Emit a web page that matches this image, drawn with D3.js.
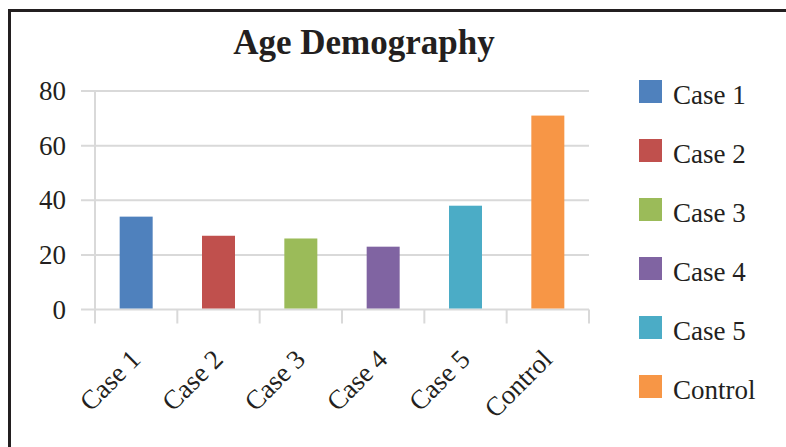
<!DOCTYPE html>
<html>
<head>
<meta charset="utf-8">
<script src="https://cdn.jsdelivr.net/npm/d3@7"></script>
<style>
  body { margin: 0; background: #fff; }
  text { font-family: "Liberation Serif", "Times New Roman", serif; fill: #231f20; }
</style>
</head>
<body>
<script>
// chart data
var categories = ["Case 1", "Case 2", "Case 3", "Case 4", "Case 5", "Control"];
var ages = [34, 27, 26, 23, 38, 71];
var colors = ["#4f81bd", "#c0504d", "#9bbb59", "#8064a2", "#4bacc6", "#f79646"];
var yTicks = [0, 20, 40, 60, 80];

var w = 786, h = 447;
var plotLeft = 95, plotRight = 589, plotTop = 91, plotBottom = 309.5;

var svg = d3.select("body").append("svg")
    .attr("width", w)
    .attr("height", h);

// frame
svg.append("rect")
    .attr("x", 9.5).attr("y", 10.5)
    .attr("width", 800).attr("height", 500)
    .attr("fill", "none")
    .attr("stroke", "#231f20")
    .attr("stroke-width", 3);

svg.append("text")
    .attr("x", 364).attr("y", 54)
    .attr("text-anchor", "middle")
    .attr("font-size", "35px")
    .attr("font-weight", "bold")
    .text("Age Demography");

var x = d3.scaleBand().domain(categories).range([plotLeft, plotRight]);
var y = d3.scaleLinear().domain([0, 80]).range([plotBottom, plotTop]);

// gridlines
svg.append("g")
    .selectAll("line")
    .data(yTicks)
    .enter()
    .append("line")
    .attr("x1", plotLeft - 14).attr("x2", plotRight)
    .attr("y1", function(d) { return y(d); })
    .attr("y2", function(d) { return y(d); })
    .attr("stroke", "#d9d9d9")
    .attr("stroke-width", 2);

// y axis line
svg.append("line")
    .attr("x1", plotLeft).attr("x2", plotLeft)
    .attr("y1", plotTop).attr("y2", plotBottom + 14)
    .attr("stroke", "#d9d9d9")
    .attr("stroke-width", 2);

// category ticks
svg.append("g")
    .selectAll("line")
    .data(categories)
    .enter()
    .append("line")
    .attr("x1", function(d) { return x(d) + x.bandwidth(); })
    .attr("x2", function(d) { return x(d) + x.bandwidth(); })
    .attr("y1", plotBottom).attr("y2", plotBottom + 14)
    .attr("stroke", "#d9d9d9")
    .attr("stroke-width", 2);

// y labels
svg.append("g")
    .selectAll("text")
    .data(yTicks)
    .enter()
    .append("text")
    .attr("x", 66)
    .attr("y", function(d) { return y(d) + 9; })
    .attr("text-anchor", "end")
    .attr("font-size", "27px")
    .text(function(d) { return d; });

// bars
var barW = 33;
svg.append("g")
    .selectAll("rect")
    .data(ages)
    .enter()
    .append("rect")
    .attr("x", function(d, i) { return x(categories[i]) + x.bandwidth() / 2 - barW / 2; })
    .attr("y", function(d) { return y(d); })
    .attr("width", barW)
    .attr("height", function(d) { return y(0) - y(d) - 1; })
    .attr("fill", function(d, i) { return colors[i]; });

// x labels
svg.append("g")
    .selectAll("text")
    .data(categories)
    .enter()
    .append("text")
    .attr("transform", function(d) {
        return "translate(" + (x(d) + x.bandwidth() / 2 + 6) + ",361) rotate(-45)";
    })
    .attr("text-anchor", "end")
    .attr("font-size", "27px")
    .text(function(d) { return d; });

// legend
var legend = svg.append("g")
    .selectAll("g")
    .data(categories)
    .enter()
    .append("g")
    .attr("transform", function(d, i) { return "translate(639," + (80 + i * 59) + ")"; });

legend.append("rect")
    .attr("width", 23).attr("height", 23)
    .attr("fill", function(d, i) { return colors[i]; });

legend.append("text")
    .attr("x", 34).attr("y", 24)
    .attr("font-size", "27px")
    .text(function(d) { return d; });
</script>
</body>
</html>
